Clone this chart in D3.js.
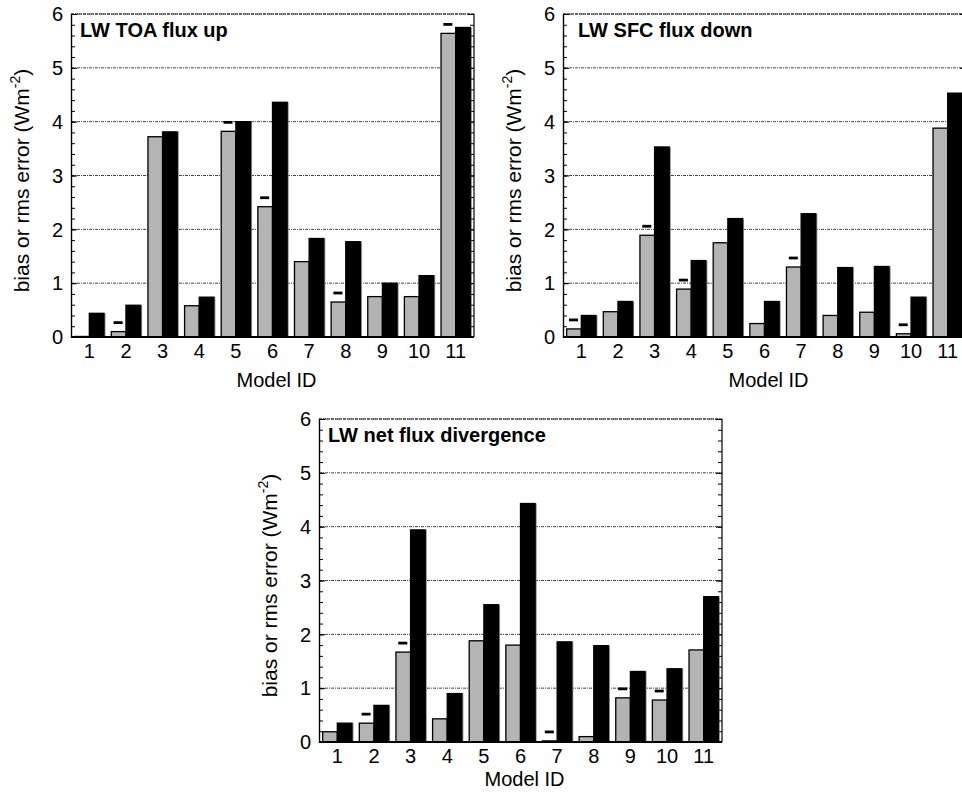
<!DOCTYPE html>
<html>
<head>
<meta charset="utf-8">
<script src="https://cdn.jsdelivr.net/npm/d3@7"></script>
<style>
  body { margin: 0; background: #fff; }
  svg { display: block; font-family: "Liberation Sans", Arial, sans-serif; }
</style>
</head>
<body>
<div id="vis"></div>
<script>
// ---------------------------- Datos ----------------------------
const models = ["1", "2", "3", "4", "5", "6", "7", "8", "9", "10", "11"];
const yTicks = [0, 1, 2, 3, 4, 5, 6];

// LW TOA flux up
const toaBias = [0.01, 0.10, 3.72, 0.58, 3.82, 2.42, 1.40, 0.65, 0.75, 0.75, 5.64];
const toaRms  = [0.44, 0.59, 3.81, 0.74, 4.00, 4.36, 1.83, 1.77, 1.00, 1.14, 5.75];
const toaNeg  = [0, 1, 0, 0, 1, 1, 0, 1, 0, 0, 1];

// LW SFC flux down
const sfcBias = [0.15, 0.47, 1.89, 0.89, 1.75, 0.25, 1.30, 0.40, 0.46, 0.06, 3.88];
const sfcRms  = [0.40, 0.66, 3.53, 1.42, 2.20, 0.66, 2.29, 1.29, 1.31, 0.74, 4.53];
const sfcNeg  = [1, 0, 1, 1, 0, 0, 1, 0, 0, 1, 0];

// LW net flux divergence
const divBias = [0.19, 0.35, 1.67, 0.43, 1.88, 1.80, 0.02, 0.10, 0.82, 0.78, 1.71];
const divRms  = [0.35, 0.68, 3.94, 0.90, 2.55, 4.43, 1.86, 1.79, 1.31, 1.36, 2.70];
const divNeg  = [0, 1, 1, 0, 0, 0, 1, 0, 1, 1, 0];

const panels = [
  {title: "LW TOA flux up", bias: toaBias, rms: toaRms, neg: toaNeg,
   left: 71, top: 14, titleDx: 9, xlabDy: 50},
  {title: "LW SFC flux down", bias: sfcBias, rms: sfcRms, neg: sfcNeg,
   left: 563, top: 14, titleDx: 15, xlabDy: 50},
  {title: "LW net flux divergence", bias: divBias, rms: divRms, neg: divNeg,
   left: 319, top: 419, titleDx: 9, xlabDy: 44}
];

// ---------------------------- Grafico ----------------------------
const W = 962, H = 794;
const PW = 403, PH = 323;

const svg = d3.select("#vis").append("svg")
  .attr("width", W)
  .attr("height", H);

function drawPanel(p) {
  const g = svg.append("g").attr("transform", `translate(${p.left},${p.top})`);

  const x = d3.scaleBand().domain(models).range([0, PW]).padding(0);
  const xs = d3.scaleBand().domain(["bias", "rms"]).range([0, x.bandwidth()])
    .paddingInner(0).paddingOuter(0.25);
  const y = d3.scaleLinear().domain([0, 6]).range([PH, 0]);

  // lineas de grilla
  g.selectAll(".grid")
    .data(yTicks.filter(t => t > 0))
    .enter().append("line")
    .attr("x1", 0).attr("x2", PW)
    .attr("y1", d => y(d)).attr("y2", d => y(d))
    .attr("stroke", "#444")
    .attr("stroke-width", 1)
    .attr("stroke-dasharray", "3,1,1,1");

  // barras
  const rows = models.map((m, i) => ({m: m, bias: p.bias[i], rms: p.rms[i], neg: p.neg[i]}));
  const grp = g.selectAll(".grp").data(rows).enter().append("g")
    .attr("transform", d => `translate(${x(d.m)},0)`);

  ["bias", "rms"].forEach(k => {
    grp.append("rect")
      .attr("x", xs(k) + 1.5)
      .attr("y", d => y(d[k]))
      .attr("width", xs.bandwidth())
      .attr("height", d => PH - y(d[k]))
      .attr("fill", "#8a8a8a");
    grp.append("rect")
      .attr("x", xs(k))
      .attr("y", d => y(d[k]))
      .attr("width", xs.bandwidth())
      .attr("height", d => PH - y(d[k]))
      .attr("fill", k === "bias" ? "#b4b4b4" : "#000")
      .attr("stroke", "#000")
      .attr("stroke-width", 1.3);
  });

  // signo negativo del sesgo
  grp.filter(d => d.neg === 1).append("line")
    .attr("x1", xs("bias") + xs.bandwidth() / 2 - 5)
    .attr("x2", xs("bias") + xs.bandwidth() / 2 + 4)
    .attr("y1", d => y(d.bias) - 9)
    .attr("y2", d => y(d.bias) - 9)
    .attr("stroke", "#000")
    .attr("stroke-width", 2.8);

  // marco
  g.append("line").attr("x1", 0).attr("x2", PW).attr("y1", 0).attr("y2", 0)
    .attr("stroke", "#222").attr("stroke-width", 1.2).attr("stroke-dasharray", "3,1");
  g.append("line").attr("x1", PW).attr("x2", PW).attr("y1", 0).attr("y2", PH)
    .attr("stroke", "#000").attr("stroke-width", 1.2);
  g.append("line").attr("x1", 0).attr("x2", PW).attr("y1", PH).attr("y2", PH)
    .attr("stroke", "#000").attr("stroke-width", 2);

  // eje y izquierdo
  const minor = d3.range(0, 6.0001, 0.2);
  const yAxis = d3.axisRight(y).tickValues(yTicks).tickSize(6).tickFormat("");
  const yMinor = d3.axisRight(y).tickValues(minor).tickSize(4).tickFormat("");
  [yMinor, yAxis].forEach(a => {
    const ax = g.append("g").call(a);
    ax.select(".domain").attr("stroke", "#000").attr("stroke-width", 1.2);
    ax.selectAll("line").attr("stroke", "#000");
  });
  // eje y derecho
  [d3.axisLeft(y).tickValues(minor).tickSize(4), d3.axisLeft(y).tickValues(yTicks).tickSize(6)]
    .forEach(a => {
      const ax = g.append("g").attr("transform", `translate(${PW},0)`)
        .call(a.tickFormat(""));
      ax.select(".domain").remove();
      ax.selectAll("line").attr("stroke", "#000");
    });

  g.selectAll(".ylab").data(yTicks).enter().append("text")
    .attr("x", -8)
    .attr("y", d => y(d))
    .attr("dy", "0.36em")
    .attr("text-anchor", "end")
    .attr("font-size", 20)
    .text(d => d);

  // eje x
  g.selectAll(".xlab").data(models).enter().append("text")
    .attr("x", d => x(d) + x.bandwidth() / 2)
    .attr("y", PH + 21)
    .attr("text-anchor", "middle")
    .attr("font-size", 20)
    .text(d => d);

  g.append("text")
    .attr("x", PW / 2 + 4)
    .attr("y", PH + p.xlabDy)
    .attr("text-anchor", "middle")
    .attr("font-size", 20)
    .text("Model ID");

  const yl = g.append("text")
    .attr("transform", `translate(-42,${PH / 2 + 5}) rotate(-90)`)
    .attr("text-anchor", "middle")
    .attr("font-size", 21);
  yl.append("tspan").text("bias or rms error (Wm");
  yl.append("tspan").attr("dy", -9).attr("font-size", 14).text("-2");
  yl.append("tspan").attr("dy", 9).text(")");

  g.append("text")
    .attr("x", p.titleDx)
    .attr("y", 23)
    .attr("font-size", 20)
    .attr("font-weight", "bold")
    .text(p.title);
}

panels.forEach(drawPanel);
</script>
</body>
</html>
